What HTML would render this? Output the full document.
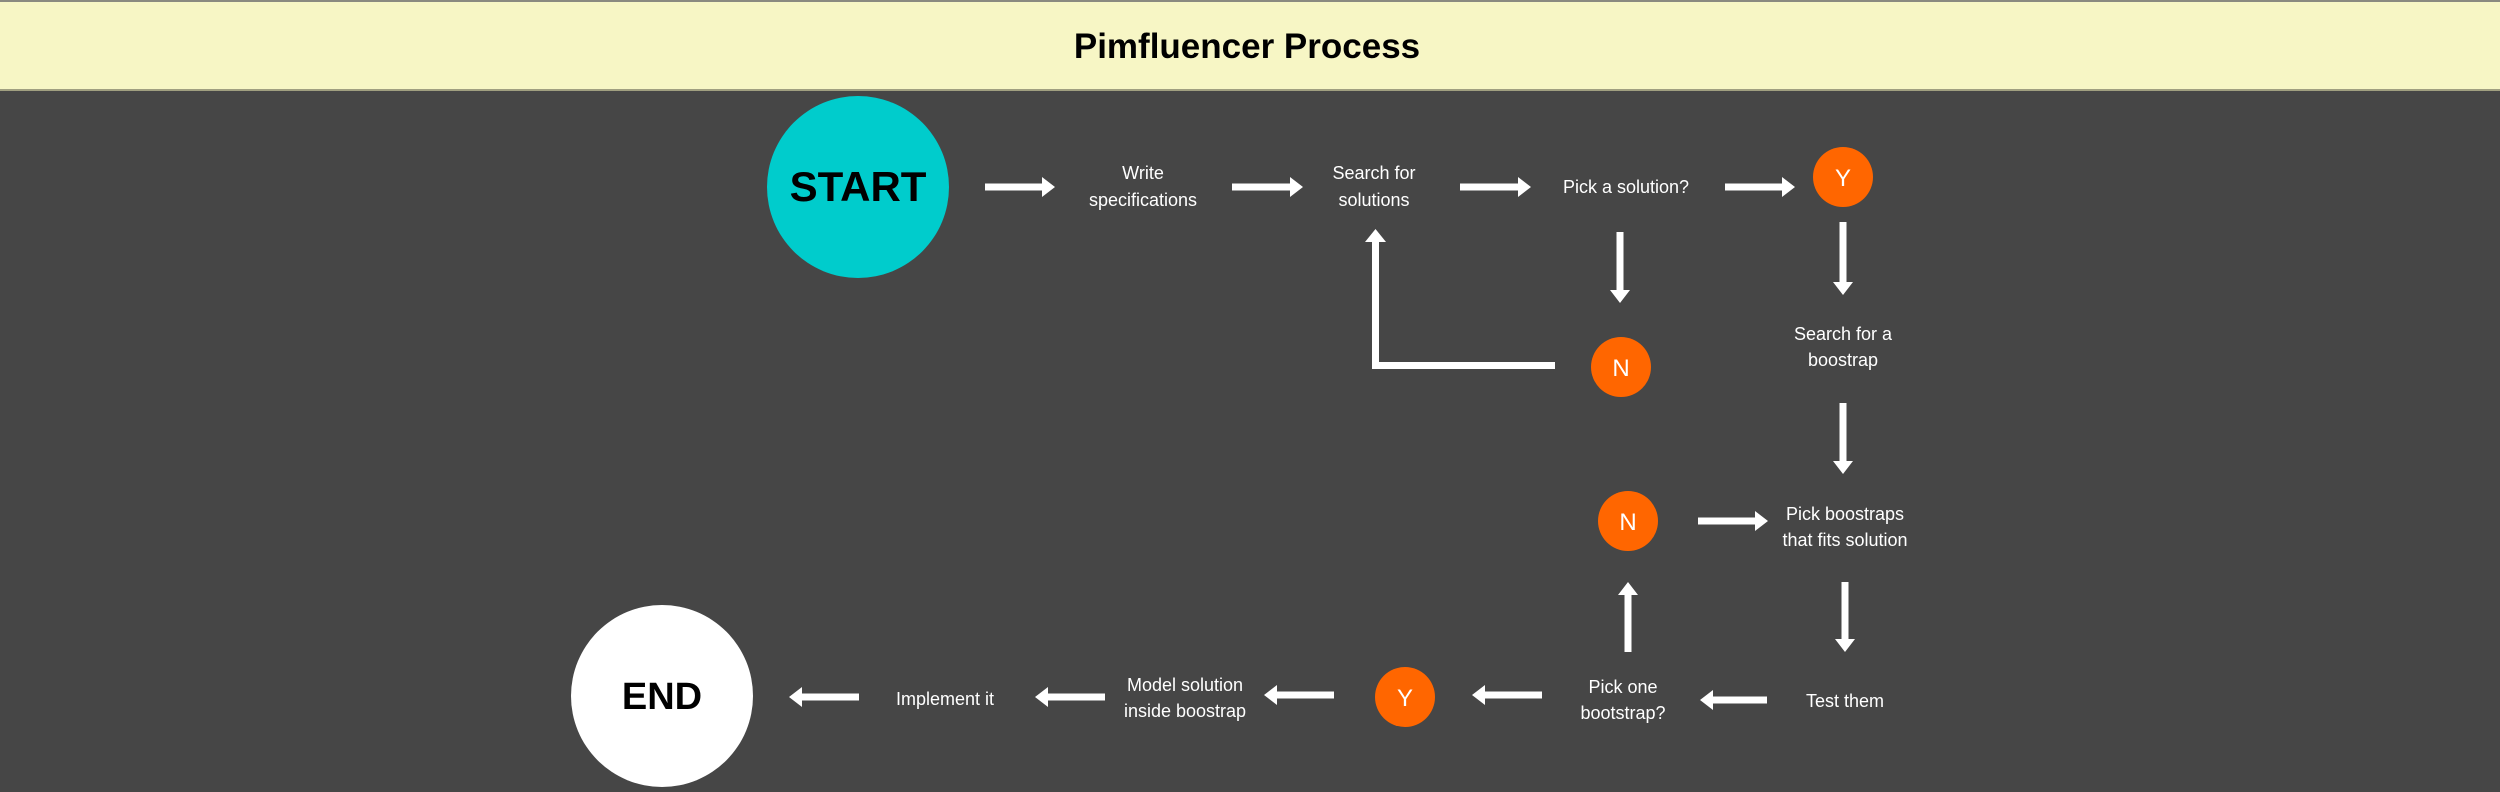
<!DOCTYPE html>
<html><head><meta charset="utf-8"><style>
html,body{margin:0;padding:0;width:2500px;height:792px;overflow:hidden;background:#464646;}
svg{display:block}
text{font-family:"Liberation Sans",Arial,sans-serif;}
</style></head><body>
<svg width="2500" height="792" viewBox="0 0 2500 792" xmlns="http://www.w3.org/2000/svg">
<rect x="0" y="0" width="2500" height="792" fill="#464646"/>
<rect x="0" y="0" width="2500" height="91" fill="#f7f6c5"/>
<rect x="0" y="0" width="2500" height="2" fill="#8a8a80"/>
<rect x="0" y="89" width="2500" height="2" fill="#a09f80"/>
<text x="1247" y="58" font-size="35" font-weight="bold" text-anchor="middle" fill="#000">Pimfluencer Process</text>

<circle cx="858" cy="187" r="91" fill="#00cccc"/>
<text x="858" y="201" font-size="42" font-weight="bold" text-anchor="middle" fill="#000">START</text>
<circle cx="662" cy="696" r="91" fill="#ffffff"/>
<text x="662" y="709" font-size="38" font-weight="bold" text-anchor="middle" fill="#000">END</text>

<g fill="#ff6600">
<circle cx="1843" cy="177" r="30"/>
<circle cx="1621" cy="367" r="30"/>
<circle cx="1628" cy="521" r="30"/>
<circle cx="1405" cy="697" r="30"/>
</g>
<g fill="#fff" font-size="24" text-anchor="middle">
<text x="1843" y="186">Y</text>
<text x="1621" y="376">N</text>
<text x="1628" y="530">N</text>
<text x="1405" y="706">Y</text>
</g>

<g fill="#fff" font-size="18" text-anchor="middle">
<text x="1143" y="179">Write</text>
<text x="1143" y="206">specifications</text>
<text x="1374" y="179">Search for</text>
<text x="1374" y="206">solutions</text>
<text x="1626" y="193">Pick a solution?</text>
<text x="1843" y="340">Search for a</text>
<text x="1843" y="366">boostrap</text>
<text x="1845" y="520">Pick boostraps</text>
<text x="1845" y="546">that fits solution</text>
<text x="1845" y="707">Test them</text>
<text x="1623" y="693">Pick one</text>
<text x="1623" y="719">bootstrap?</text>
<text x="1185" y="691">Model solution</text>
<text x="1185" y="717">inside boostrap</text>
<text x="945" y="705">Implement it</text>
</g>

<g fill="#fff">
<!-- right arrows -->
<path d="M985 183.5H1042V177L1055 187L1042 197V190.5H985Z"/>
<path d="M1232 183.5H1290V177L1303 187L1290 197V190.5H1232Z"/>
<path d="M1460 183.5H1518V177L1531 187L1518 197V190.5H1460Z"/>
<path d="M1725 183.5H1782V177L1795 187L1782 197V190.5H1725Z"/>
<path d="M1698 517.5H1755V511L1768 521L1755 531V524.5H1698Z"/>
<!-- down arrows -->
<path d="M1839.5 222V282H1833L1843 295L1853 282H1846.5V222Z"/>
<path d="M1616.5 232V290H1610L1620 303L1630 290H1623.5V232Z"/>
<path d="M1839.5 403V461H1833L1843 474L1853 461H1846.5V403Z"/>
<path d="M1841.5 582V639H1835L1845 652L1855 639H1848.5V582Z"/>
<!-- up arrow -->
<path d="M1624.5 652V595H1618L1628 582L1638 595H1631.5V652Z"/>
<!-- left arrows -->
<path d="M1767 696.5H1713V690L1700 700L1713 710V703.5H1767Z"/>
<path d="M1542 691.5H1485V685L1472 695L1485 705V698.5H1542Z"/>
<path d="M1334 691.5H1277V685L1264 695L1277 705V698.5H1334Z"/>
<path d="M1105 693.5H1048V687L1035 697L1048 707V700.5H1105Z"/>
<path d="M859 693.5H802V687L789 697L802 707V700.5H859Z"/>
<!-- loop -->
<path d="M1555 362V369H1372V242H1365L1375.5 229L1386 242H1379V362Z"/>
</g>
</svg>
</body></html>
